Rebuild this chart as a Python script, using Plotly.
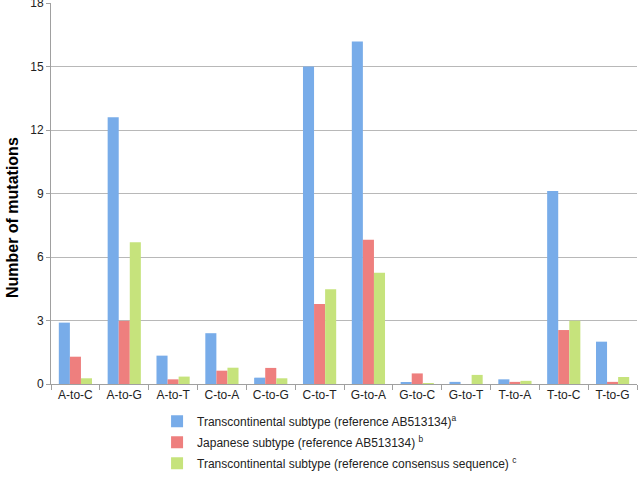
import plotly.graph_objects as go

categories = ["A-to-C", "A-to-G", "A-to-T", "C-to-A", "C-to-G", "C-to-T",
              "G-to-A", "G-to-C", "G-to-T", "T-to-A", "T-to-C", "T-to-G"]
transcontinental_ab = [2.9, 12.6, 1.34, 2.4, 0.3, 15.0, 16.18, 0.05, 0.1, 0.22, 9.12, 2.0]
japanese_ab = [1.29, 2.98, 0.22, 0.63, 0.76, 3.78, 6.81, 0.5, 0.0, 0.1, 2.55, 0.1]
transcontinental_cons = [0.27, 6.7, 0.35, 0.77, 0.27, 4.48, 5.26, 0.03, 0.43, 0.15, 2.99, 0.33]
y_ticks = [0, 3, 6, 9, 12, 15, 18]

series = [
    ("Transcontinental subtype (reference AB513134)<sup>a</sup>", transcontinental_ab, "#78ACE9"),
    ("Japanese subtype (reference AB513134) <sup>b</sup>", japanese_ab, "#EE7F7E"),
    ("Transcontinental subtype (reference consensus sequence) <sup>c</sup>", transcontinental_cons, "#C6E37C"),
]

fig = go.Figure()
for i, (name, vals, col) in enumerate(series):
    fig.add_trace(go.Bar(
        x=categories, y=vals, name=name, legendgroup=f"g{i}",
        marker=dict(color=col, line=dict(width=0)),
    ))

fig.add_annotation(
    text="<b>Number of mutations</b>", textangle=-90,
    xref="paper", yref="paper", x=-0.0666, y=0.438,
    xanchor="center", yanchor="middle", showarrow=False,
    font=dict(size=16, color="#000000"),
)

fig.update_layout(
    width=638, height=480,
    margin=dict(l=51, r=1, t=3, b=96, autoexpand=False),
    paper_bgcolor="white", plot_bgcolor="white",
    barmode="group", bargap=0.32, bargroupgap=0,
    font=dict(family="Liberation Sans, Arial, sans-serif", size=12, color="#222222"),
    showlegend=True,
    legend=dict(
        x=0.181, y=-0.06, xanchor="left", yanchor="top",
        orientation="v", font=dict(size=12, color="#222222"),
        bgcolor="rgba(0,0,0,0)", tracegroupgap=2, traceorder="grouped",
    ),
    xaxis=dict(
        showline=True, linecolor="#A0A0A0", linewidth=1,
        ticks="outside", tickson="boundaries", ticklen=5, tickcolor="#A0A0A0",
        tickfont=dict(size=12, color="#222222"), showgrid=False, automargin=False,
    ),
    yaxis=dict(
        range=[0, 18.001], tickvals=y_ticks,
        showline=True, linecolor="#A0A0A0", linewidth=1,
        ticks="outside", ticklen=4, tickcolor="#A0A0A0",
        showgrid=True, gridcolor="#B8B8B8", gridwidth=1,
        tickfont=dict(size=12, color="#222222"), automargin=False,
        ticklabeloverflow="allow",
        zeroline=False,
    ),
)

fig.write_html(
    "out.html",
    config={"displayModeBar": False},
    post_script="document.body.style.margin='0';document.body.style.overflow='hidden';",
)
